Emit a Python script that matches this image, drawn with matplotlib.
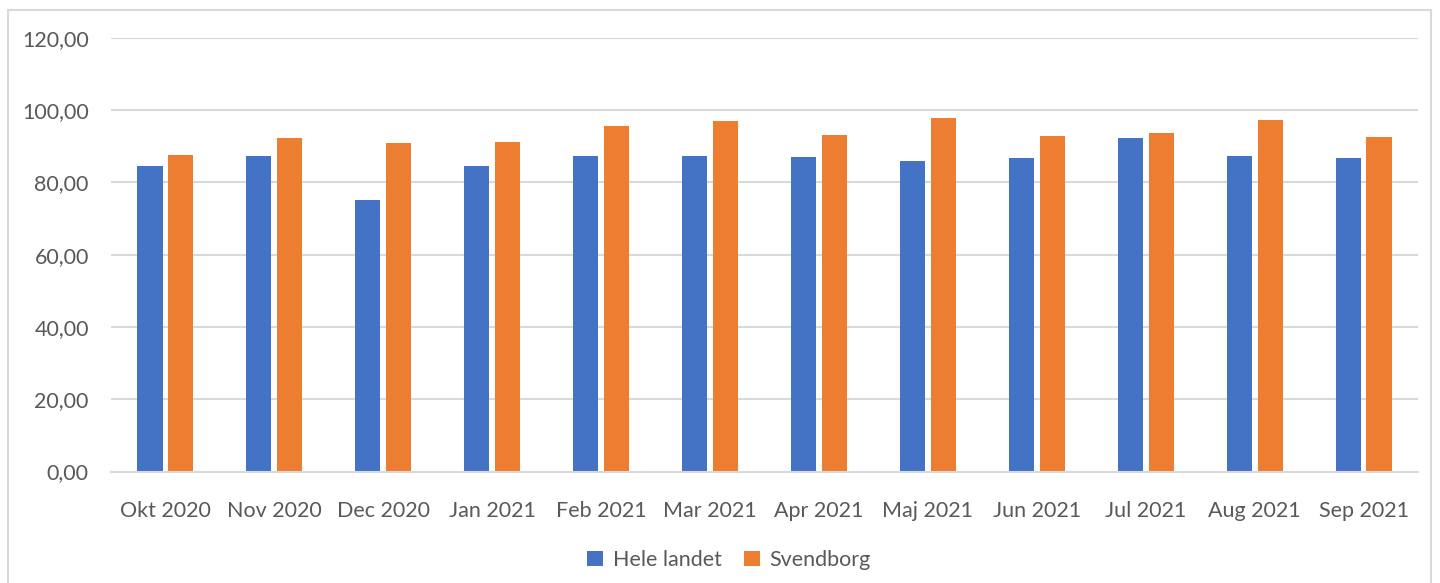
import matplotlib
matplotlib.use("Agg")
import matplotlib.pyplot as plt
import numpy as np
from matplotlib.patches import Rectangle

categories = ["Okt 2020", "Nov 2020", "Dec 2020", "Jan 2021", "Feb 2021", "Mar 2021",
              "Apr 2021", "Maj 2021", "Jun 2021", "Jul 2021", "Aug 2021", "Sep 2021"]
hele_landet = [84.5, 87.2, 75.1, 84.5, 87.2, 87.2, 86.9, 85.8, 86.7, 92.2, 87.2, 86.7]
svendborg = [87.5, 92.2, 90.8, 91.1, 95.5, 96.9, 93.0, 97.7, 92.8, 93.6, 97.2, 92.5]
yticks = [0, 20, 40, 60, 80, 100, 120]
ytick_labels = ["0,00", "20,00", "40,00", "60,00", "80,00", "100,00", "120,00"]

plt.rcParams['font.family'] = ['Lato', 'DejaVu Sans']
W, H = 1440, 583
fig = plt.figure(figsize=(W / 100, H / 100), dpi=100)

# outer chart border
fig.patches.append(Rectangle((8 / W, -0.01), (1431 - 8) / W, 1 - 10 / H + 0.01,
                             transform=fig.transFigure, fill=False,
                             edgecolor="#d9d9d9", linewidth=1.5))

left, right = 111 / W, 1418 / W
bottom, top = 1 - 471.5 / H, 1 - 37.7 / H
ax = fig.add_axes([left, bottom, right - left, top - bottom])

x = np.arange(len(categories))
bw = 0.23
off = 0.142
blue = "#4472c4"
orange = "#ed7d31"
ax.bar(x - off, hele_landet, bw, color=blue, label="Hele landet", zorder=3)
ax.bar(x + off, svendborg, bw, color=orange, label="Svendborg", zorder=3)

ax.set_xlim(-0.5, len(categories) - 0.5)
ax.set_ylim(0, 120)
ax.set_yticks(yticks)
ax.set_yticklabels(ytick_labels)
ax.set_xticks(x)
ax.set_xticklabels(categories)
ax.grid(axis="y", color="#d9d9d9", linewidth=1.5, zorder=0)
for s in ["top", "right", "left"]:
    ax.spines[s].set_visible(False)
ax.spines["bottom"].set_color("#d9d9d9")
ax.spines["bottom"].set_linewidth(1.5)
ax.spines["bottom"].set_zorder(4)
ax.tick_params(axis="both", length=0, labelsize=15.5, colors="#595959")
ax.tick_params(axis="y", pad=16)
ax.tick_params(axis="x", pad=21)

leg = fig.legend(loc="center", bbox_to_anchor=(729 / W, 1 - 560 / H), ncol=2,
                 frameon=False, fontsize=15.5, handlelength=0.75, handleheight=0.75,
                 columnspacing=1.0, handletextpad=0.45)
for t in leg.get_texts():
    t.set_color("#595959")

fig.savefig("out.png", dpi=100)
